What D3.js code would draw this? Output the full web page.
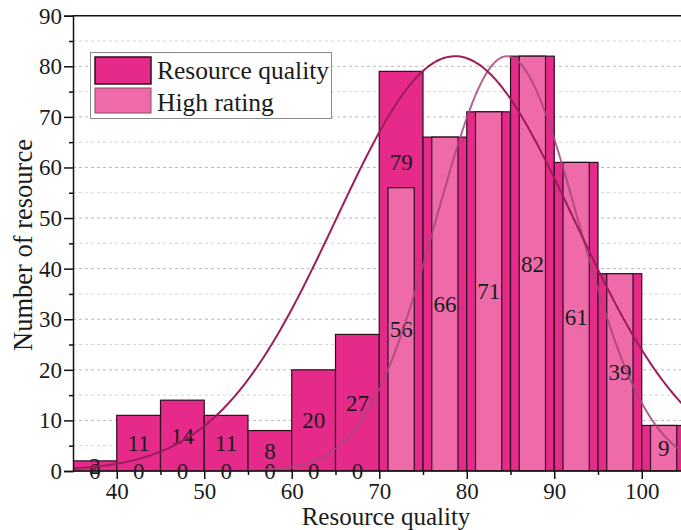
<!DOCTYPE html>
<html><head><meta charset="utf-8">
<script src="https://cdn.jsdelivr.net/npm/d3@7"></script>
<style>
html,body{margin:0;padding:0;background:#fff;}
svg text{font-family:"Liberation Serif","Times New Roman",serif;fill:#1a1a1a;}
</style></head>
<body><svg id="c" width="681" height="530"></svg>
<script>
// ---- data ----
const binStarts = [35,40,45,50,55,60,65,70,75,80,85,90,95,100];
const binWidth = 5;
const qualityCounts = [2,11,14,11,8,20,27,79,66,71,82,61,39,9];
const ratingCounts  = [0,0,0,0,0,0,0,56,66,71,82,61,39,9];
// label anchor (in data units) for the quality series; Origin shifted the "79" label upward
const qualityLabelAt = [1,5.5,7,5.5,4,10,13.5,61,33,35.5,41,30.5,19.5,4.5];
const seriesNames = ["Resource quality","High rating"];
// normal fit curves [mean, sigma, peak]
const qualityFit = [78.66, 13.6, 82];
const ratingFit  = [84.6, 8.1, 82];
const xTicks = [40,50,60,70,80,90,100];
const yTicks = [0,10,20,30,40,50,60,70,80,90];

const svg = d3.select("#c");
const x = d3.scaleLinear().domain([35,105]).range([73,685.5]);
const y = d3.scaleLinear().domain([0,90]).range([471,15.7]);
const darkFill = "#e52a89", lightFill = "#ee6aa8", edge = "#2b0f1f";

const defs = svg.append("defs");
defs.append("clipPath").attr("id","clip").append("rect")
  .attr("x",73).attr("y",0).attr("width",608).attr("height",471.5);
defs.append("clipPath").attr("id","clipT").append("rect")
  .attr("x",60).attr("y",0).attr("width",621).attr("height",530);

// grid
const gridVals = d3.range(5,90,5);
svg.append("g").selectAll("line").data(gridVals).join("line")
  .attr("x1",73).attr("x2",681).attr("y1",d=>y(d)).attr("y2",d=>y(d))
  .attr("stroke",d=>d%10===0?"#b9b9b9":"#d3d3d3").attr("stroke-width",1)
  .attr("stroke-dasharray","3,3");

const plot = svg.append("g").attr("clip-path","url(#clip)");
const labs = svg.append("g").attr("clip-path","url(#clipT)");

// quality bars
plot.append("g").selectAll("rect").data(binStarts).join("rect")
  .attr("x",(d)=>x(d)).attr("width",d=>x(d+binWidth)-x(d))
  .attr("y",(d,i)=>y(qualityCounts[i])).attr("height",(d,i)=>y(0)-y(qualityCounts[i]))
  .attr("fill",darkFill).attr("stroke",edge).attr("stroke-width",1.2);

// quality labels (drawn under the rating bars)
labs.append("g").selectAll("text").data(binStarts).join("text")
  .attr("x",d=>x(d+binWidth/2)).attr("y",(d,i)=>y(qualityLabelAt[i]))
  .attr("dy","0.35em").attr("text-anchor","middle").attr("font-size",23)
  .text((d,i)=>qualityCounts[i]);

const plot2 = svg.append("g").attr("clip-path","url(#clip)");
// rating bars (narrower, 60% width, centred in bin)
plot2.append("g").selectAll("rect").data(binStarts.filter((d,i)=>ratingCounts[i]>0)).join("rect")
  .attr("x",d=>x(d+binWidth*0.2)).attr("width",d=>x(d+binWidth*0.8)-x(d+binWidth*0.2))
  .attr("y",d=>y(ratingCounts[binStarts.indexOf(d)]))
  .attr("height",d=>y(0)-y(ratingCounts[binStarts.indexOf(d)]))
  .attr("fill",lightFill).attr("stroke",edge).attr("stroke-width",1.2);

// rating labels
const labs2 = svg.append("g").attr("clip-path","url(#clipT)");
labs2.append("g").selectAll("text").data(binStarts).join("text")
  .attr("x",d=>x(d+binWidth/2)).attr("y",(d,i)=>y(ratingCounts[i]/2))
  .attr("dy","0.35em").attr("text-anchor","middle").attr("font-size",23)
  .text((d,i)=>ratingCounts[i]);

// fit curves
function curve(p){
  const pts = d3.range(35,106,0.25).map(v=>[v,p[2]*Math.exp(-((v-p[0])**2)/(2*p[1]*p[1]))]);
  return d3.line().x(d=>x(d[0])).y(d=>y(d[1])).curve(d3.curveBasis)(pts);
}
const plot3 = svg.append("g").attr("clip-path","url(#clip)");
plot3.append("path").attr("d",curve(ratingFit)).attr("fill","none")
  .attr("stroke","#a8467a").attr("stroke-opacity",0.85).attr("stroke-width",2);
plot3.append("path").attr("d",curve(qualityFit)).attr("fill","none")
  .attr("stroke","#9c1d5c").attr("stroke-width",2);

// axes frame
svg.append("line").attr("x1",73).attr("x2",681).attr("y1",y(90)).attr("y2",y(90))
  .attr("stroke","#111").attr("stroke-width",1.5);

const yAxis = svg.append("g").attr("transform","translate(73,0)")
  .call(d3.axisLeft(y).tickValues(yTicks).tickSize(9).tickPadding(2));
svg.append("g").attr("transform","translate(73,0)")
  .call(d3.axisLeft(y).tickValues(d3.range(5,90,10)).tickSize(4).tickFormat(""))
  .call(g=>g.select(".domain").remove());
yAxis.selectAll("text").attr("font-size",23).attr("font-family","Liberation Serif");

const xAxis = svg.append("g").attr("transform","translate(0,471)")
  .call(d3.axisBottom(x).tickValues(xTicks).tickSize(8).tickPadding(4));
xAxis.select(".domain").attr("d","M73,0H681");
svg.append("g").attr("transform","translate(0,471)")
  .call(d3.axisBottom(x).tickValues(d3.range(45,105,10)).tickSize(4).tickFormat(""))
  .call(g=>g.select(".domain").remove());
xAxis.selectAll("text").attr("font-size",23).attr("font-family","Liberation Serif");
svg.selectAll(".tick line, .domain").attr("stroke","#111").attr("stroke-width",1.5);

// axis titles
svg.append("text").attr("x",386).attr("y",525).attr("text-anchor","middle")
  .attr("font-size",25).text("Resource quality");
svg.append("text").attr("transform","translate(32,245) rotate(-90)")
  .attr("text-anchor","middle").attr("font-size",26.5).text("Number of resource");

// legend
const lg = svg.append("g");
lg.append("rect").attr("x",90.5).attr("y",52.5).attr("width",241).attr("height",66)
  .attr("fill","#fff").attr("stroke","#8a8a8a").attr("stroke-width",1);
const fills = [darkFill, lightFill];
seriesNames.forEach((n,i)=>{
  lg.append("rect").attr("x",95).attr("y",57+i*31).attr("width",56).attr("height",i?25:27)
    .attr("fill",fills[i]).attr("stroke",i?"#8a4a66":edge).attr("stroke-width",i?1:1.5);
  lg.append("text").attr("x",157).attr("y",79+i*31.5).attr("font-size",25.5).text(n);
});
</script></body></html>
